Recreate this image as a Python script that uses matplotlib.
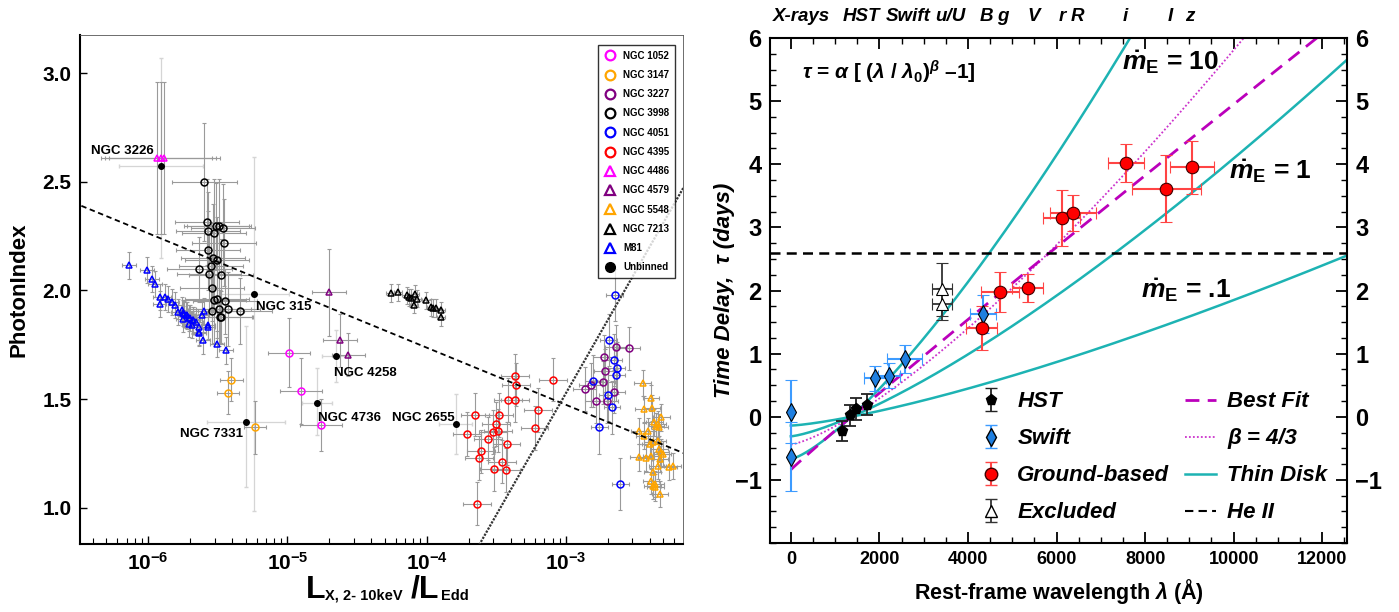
import numpy as np
import matplotlib
matplotlib.use('Agg')
import matplotlib.pyplot as plt
from matplotlib.lines import Line2D
from matplotlib.ticker import MultipleLocator, LogLocator, NullFormatter, FixedLocator

plt.rcParams['font.family'] = ['Liberation Sans', 'DejaVu Sans']
plt.rcParams['mathtext.fontset'] = 'custom'
plt.rcParams['mathtext.rm'] = 'Liberation Sans:bold'
plt.rcParams['mathtext.it'] = 'Liberation Sans:bold:italic'
plt.rcParams['mathtext.bf'] = 'Liberation Sans:bold'

# ---------------- left panel data: log10(L_X/L_Edd), photon index ----------------
m81_lx = [-6.138, -6.012, -5.971, -5.952, -5.914, -5.919, -5.883, -5.855, -5.830, -5.809,
          -5.785, -5.761, -5.742, -5.723, -5.749, -5.699, -5.675, -5.704, -5.685, -5.634,
          -5.637, -5.613, -5.596, -5.570, -5.570, -5.608, -5.508, -5.441, -5.747, -5.728,
          -5.706, -5.680, -5.658, -5.632]
m81_g = [2.115, 2.095, 2.051, 2.031, 1.972, 1.939, 1.969, 1.960, 1.946, 1.934,
         1.903, 1.911, 1.893, 1.885, 1.870, 1.874, 1.862, 1.847, 1.843, 1.831,
         1.808, 1.888, 1.905, 1.839, 1.831, 1.770, 1.754, 1.724, 1.896, 1.889,
         1.874, 1.865, 1.857, 1.803]

n3998_lx = [-5.596, -5.577, -5.51, -5.49, -5.46, -5.57, -5.529, -5.455, -5.572, -5.532,
            -5.508, -5.632, -5.548, -5.561, -5.479, -5.539, -5.527, -5.508, -5.448, -5.539,
            -5.489, -5.427, -5.338, -5.482, -5.48]
n3998_g = [2.499, 2.315, 2.295, 2.295, 2.289, 2.272, 2.264, 2.220, 2.184, 2.149,
           2.138, 2.097, 2.111, 2.074, 2.069, 2.011, 1.957, 1.962, 1.951, 1.905,
           1.916, 1.916, 1.906, 1.880, 1.877]
n3998_ye = [0.27, 0.2, 0.2, 0.22, 0.2, 0.18, 0.25, 0.2, 0.18, 0.25, 0.2, 0.15, 0.2,
            0.18, 0.17, 0.15, 0.2, 0.18, 0.15, 0.15, 0.17, 0.17, 0.15, 0.12, 0.12]

n3147_lx = [-5.403, -5.429, -5.231]
n3147_g = [1.590, 1.530, 1.370]

n1052_lx = [-4.987, -4.901, -4.762]
n1052_g = [1.714, 1.538, 1.382]

n4579_lx = [-4.703, -4.624, -4.564]
n4579_g = [1.992, 1.770, 1.705]

n4486_lx = [-5.94, -5.91, -5.885]
n4486_g = [2.608, 2.608, 2.608]

n7213_lx = [-4.260, -4.206, -4.145, -4.129, -4.115, -4.086, -4.070, -4.093, -4.002, -3.971,
            -3.955, -3.935, -3.897, -3.900]
n7213_g = [1.988, 1.992, 1.977, 1.969, 1.966, 1.985, 1.962, 1.935, 1.954, 1.923,
           1.920, 1.920, 1.908, 1.877]

n4395_lx = [-3.654, -3.711, -3.608, -3.625, -3.560, -3.527, -3.505, -3.489, -3.482, -3.427,
            -3.462, -3.518, -3.434, -3.642, -3.415, -3.364, -3.369, -3.360, -3.200, -3.226,
            -3.095]
n4395_g = [1.429, 1.340, 1.260, 1.229, 1.319, 1.350, 1.386, 1.355, 1.427, 1.296,
           1.213, 1.178, 1.174, 1.020, 1.496, 1.496, 1.608, 1.567, 1.450, 1.367,
           1.590]

n3227_lx = [-2.640, -2.550, -2.726, -2.717, -2.824, -2.867, -2.731, -2.657, -2.784, -2.705]
n3227_g = [1.739, 1.734, 1.693, 1.631, 1.565, 1.547, 1.577, 1.535, 1.490, 1.490]

n4051_lx = [-2.650, -2.693, -2.657, -2.636, -2.640, -2.803, -2.700, -2.669, -2.760, -2.611]
n4051_g = [1.980, 1.774, 1.681, 1.644, 1.613, 1.582, 1.521, 1.462, 1.370, 1.109]

n5548_lx = [-2.449, -2.389, -2.442, -2.382, -2.366, -2.342, -2.315, -2.330, -2.354, -2.473,
            -2.413, -2.437, -2.378, -2.330, -2.318, -2.342, -2.396, -2.478, -2.425, -2.389,
            -2.325, -2.306, -2.263, -2.234, -2.378, -2.342, -2.389, -2.358, -2.378, -2.358,
            -2.325]
n5548_g = [1.575, 1.504, 1.455, 1.458, 1.393, 1.386, 1.416, 1.370, 1.378, 1.355,
           1.355, 1.332, 1.301, 1.270, 1.255, 1.309, 1.294, 1.232, 1.229, 1.240,
           1.224, 1.247, 1.189, 1.194, 1.163, 1.194, 1.124, 1.109, 1.101, 1.094,
           1.063]

# unbinned: NGC 3226, NGC 315, NGC 7331, NGC 4736, NGC 4258, NGC 2655
unb_names = ['NGC 3226', 'NGC 315', 'NGC 7331', 'NGC 4736', 'NGC 4258', 'NGC 2655']
unb_lx = [-5.91, -5.238, -5.30, -4.788, -4.652, -3.792]
unb_g = [2.571, 1.985, 1.396, 1.484, 1.697, 1.386]
unb_xe = [0.3, 0.25, 0.28, 0.11, 0.1, 0.12]
unb_ye_lo = [0.42, 1.0, 0.3, 0.15, 0.12, 0.14]
unb_ye_hi = [0.5, 0.63, 0.44, 0.16, 0.12, 0.14]

# fits (Gamma = a + b log10 L)
fit_dash = (0.685, -0.263)
fit_dot = (0.834 + 1.12 * 3.620, 1.12)

# ---------------- right panel data ----------------
hst_lam = [1150, 1340, 1462, 1725]
hst_tau = [-0.22, 0.02, 0.12, 0.19]
hst_err = [0.16, 0.16, 0.17, 0.17]

swift_lam = [0, 0, 1906, 2215, 2569, 4339]
swift_tau = [0.08, -0.63, 0.61, 0.65, 0.91, 1.63]
swift_xerr = [0, 0, 250, 250, 400, 290]
swift_yerr = [0.5, 0.55, 0.2, 0.2, 0.22, 0.3]

ground_lam = [4316, 4716, 5345, 6114, 6366, 7571, 8475, 9062]
ground_tau = [1.41, 1.98, 2.04, 3.15, 3.23, 4.02, 3.61, 3.95]
ground_xerr = [350, 430, 340, 410, 515, 410, 780, 490]
ground_yerr = [0.35, 0.32, 0.22, 0.44, 0.29, 0.30, 0.53, 0.42]

excl_lam = [3420, 3420]
excl_tau = [2.02, 1.79]
excl_xerr = [230, 230]
excl_yerr = [0.42, 0.25]

lam0 = 1367.0
best_alpha, best_beta = 0.84, 0.97
b43_alpha = 0.44
disk_alpha = [0.67, 0.31, 0.14]
heII_tau = 2.6

band_names = ['X-rays', 'HST', 'Swift', 'u/U', 'B', 'g', 'V', 'r', 'R', 'i', 'I', 'z']
band_lam = [230, 1600, 2650, 3593, 4407, 4791, 5492, 6124, 6463, 7548, 8565, 9017]

# ---------------- figure ----------------
W, H = 1399, 612
fig = plt.figure(figsize=(W / 100, H / 100), dpi=100)
ax1 = fig.add_axes([80 / W, 1 - 544 / H, (683 - 80) / W, (544 - 35) / H])
ax2 = fig.add_axes([770 / W, 1 - 543 / H, (1347 - 770) / W, (543 - 38) / H])


def log_err(lx, dex):
    x = 10 ** np.asarray(lx, dtype=float)
    d = np.asarray(dex, dtype=float) * np.ones_like(x)
    return x, [x - x * 10 ** (-d), x * 10 ** d - x]


groups = [
    ('NGC 1052', n1052_lx, n1052_g, 0.15, [0.16, 0.15, 0.12], 'o', '#ff00ff'),
    ('NGC 3147', n3147_lx, n3147_g, 0.08, [0.1, 0.1, 0.12], 'o', '#ffa500'),
    ('NGC 3227', n3227_lx, n3227_g, 0.08, 0.1, 'o', '#800080'),
    ('NGC 3998', n3998_lx, n3998_g, 0.23, n3998_ye, 'o', 'black'),
    ('NGC 4051', n4051_lx, n4051_g, 0.06, 0.12, 'o', '#0000ff'),
    ('NGC 4395', n4395_lx, n4395_g, 0.1, 0.1, 'o', '#ff0000'),
    ('NGC 4486', n4486_lx, n4486_g, 0.4, 0.35, '^', '#ff00ff'),
    ('NGC 4579', n4579_lx, n4579_g, 0.12, [0.2, 0.12, 0.1], '^', '#800080'),
    ('NGC 5548', n5548_lx, n5548_g, 0.06, 0.06, '^', '#ffa500'),
    ('NGC 7213', n7213_lx, n7213_g, 0.03, 0.04, '^', 'black'),
    ('M81', m81_lx, m81_g, 0.05, 0.06, '^', '#0000ff'),
]

handles = []
for name, lx, g, xd, yd, mk, col in groups:
    x, xe = log_err(lx, xd)
    ye = np.asarray(yd, dtype=float) * np.ones(len(g))
    ax1.errorbar(x, g, xerr=xe, yerr=ye, fmt='none', ecolor='#9a9a9a',
                 elinewidth=0.8, capsize=1.5, capthick=0.8, zorder=2)
    ax1.plot(x, g, linestyle='none', marker=mk, mfc='none', mec=col,
             mew=1.1, ms=5, zorder=3)
    handles.append(Line2D([], [], linestyle='none', marker=mk, mfc='none',
                          mec=col, mew=1.6, ms=7, label=name))

ux, uxe = log_err(unb_lx, unb_xe)
ax1.errorbar(ux, unb_g, xerr=uxe, yerr=[unb_ye_lo, unb_ye_hi], fmt='none',
             ecolor='#d5d5d5', elinewidth=0.9, capsize=1.5, zorder=1)
ax1.plot(ux, unb_g, 'o', color='black', ms=4, zorder=4)
handles.append(Line2D([], [], linestyle='none', marker='o', color='black',
                      ms=7, label='Unbinned'))

lab_pos = {'NGC 3226': (-5.96, 2.615, 'right', 'bottom'),
           'NGC 315': (-5.225, 1.925, 'left', 'center'),
           'NGC 7331': (-5.32, 1.34, 'right', 'center'),
           'NGC 4736': (-4.78, 1.415, 'left', 'center'),
           'NGC 4258': (-4.665, 1.62, 'left', 'center'),
           'NGC 2655': (-3.80, 1.415, 'right', 'center')}
for name in unb_names:
    lx, yy, ha, va = lab_pos[name]
    ax1.text(10 ** lx, yy, name, ha=ha, va=va, fontsize=9.5, fontweight='bold',
             zorder=5)

xl = np.linspace(-6.6, -2.0, 50)
ax1.plot(10 ** xl, fit_dash[0] + fit_dash[1] * xl, color='black', ls=(0, (3, 2)),
         lw=1.3, zorder=4)
xd_ = np.linspace(-3.7, -2.0, 50)
ax1.plot(10 ** xd_, fit_dot[0] + fit_dot[1] * xd_, color='#333333', ls=(0, (1, 0.6)),
         lw=1.6, zorder=4)

ax1.set_xscale('log')
ax1.set_xlim(10 ** -6.49, 10 ** -2.16)
ax1.set_ylim(0.834, 3.175)
ax1.set_yticks([1.0, 1.5, 2.0, 2.5, 3.0])
ax1.set_yticklabels(['1.0', '1.5', '2.0', '2.5', '3.0'], fontsize=15, fontweight='bold')
ax1.xaxis.set_major_locator(FixedLocator([1e-6, 1e-5, 1e-4, 1e-3]))
ax1.set_xticklabels([r'$10^{-6}$', r'$10^{-5}$', r'$10^{-4}$', r'$10^{-3}$'], fontsize=15)
ax1.xaxis.set_minor_locator(LogLocator(base=10, subs=np.arange(2, 10), numticks=20))
ax1.xaxis.set_minor_formatter(NullFormatter())
ax1.tick_params(axis='x', which='major', direction='in', length=6, width=1, pad=6)
ax1.tick_params(axis='x', which='minor', direction='in', length=4, width=0.8)
ax1.tick_params(axis='y', which='major', direction='in', length=5, width=1, pad=6)
for s in ['top', 'right']:
    ax1.spines[s].set_linewidth(0.6)
    ax1.spines[s].set_color('#555555')
for s in ['left', 'bottom']:
    ax1.spines[s].set_linewidth(1.5)
ax1.set_ylabel('PhotonIndex', fontsize=16, fontweight='bold')
ax1.yaxis.set_label_coords(-0.083, 0.5)

leg1 = ax1.legend(handles=handles, loc='upper right', bbox_to_anchor=(0.995, 0.99),
                  prop={'size': 7, 'weight': 'bold'},
                  fancybox=False, edgecolor='black', handletextpad=0.8,
                  labelspacing=0.95, borderpad=0.6, handlelength=1.2)
leg1.get_frame().set_linewidth(1.0)

fig.text(306 / W, 1 - 598 / H, 'L', fontsize=23, fontweight='bold', va='baseline')
fig.text(325 / W, 1 - 600 / H, 'X, 2- 10keV', fontsize=10.5, fontweight='bold', va='baseline')
fig.text(411 / W, 1 - 598 / H, '/L', fontsize=23, fontweight='bold', va='baseline')
fig.text(441 / W, 1 - 600 / H, 'Edd', fontsize=10.5, fontweight='bold', va='baseline')

# ---------------- right panel ----------------
lam = np.linspace(0, 12600, 500)
for a in disk_alpha:
    ax2.plot(lam, a * ((lam / lam0) ** (4 / 3) - 1), color='#1db3b3', lw=1.8, zorder=2)
ax2.plot(lam, b43_alpha * ((lam / lam0) ** (4 / 3) - 1), color='#cc33cc', lw=1.3,
         ls=(0, (1, 1.2)), zorder=2)
ax2.plot(lam, best_alpha * ((lam / lam0) ** best_beta - 1), color='#bb00bb', lw=2.0,
         ls=(0, (5, 3)), zorder=2)
ax2.axhline(heII_tau, color='black', lw=1.8, ls=(0, (4, 2.5)), zorder=2)

ax2.errorbar(hst_lam, hst_tau, yerr=hst_err, fmt='p', color='black', ms=8,
             ecolor='#222222', elinewidth=1.3, capsize=4, capthick=1.3, zorder=4)
ax2.errorbar(swift_lam, swift_tau, xerr=swift_xerr, yerr=swift_yerr, fmt='d',
             mfc='#1f7fe0', mec='black', mew=0.8, ms=9, ecolor='#3d9bff',
             elinewidth=1.5, capsize=4, capthick=1.5, zorder=4)
ax2.errorbar(ground_lam, ground_tau, xerr=ground_xerr, yerr=ground_yerr, fmt='o',
             mfc='red', mec='#400000', mew=0.8, ms=9, ecolor='#ff4444',
             elinewidth=1.5, capsize=4, capthick=1.5, zorder=4)
ax2.errorbar(excl_lam, excl_tau, xerr=excl_xerr, yerr=excl_yerr, fmt='^',
             mfc='white', mec='black', mew=0.8, ms=8, ecolor='#333333',
             elinewidth=1.3, capsize=4, capthick=1.3, zorder=4)

# legend proxies with vertical bars only
p_h = ax2.errorbar([np.nan], [np.nan], yerr=[np.nan], fmt='p', color='black', ms=8,
                   ecolor='#222222', elinewidth=1.3, capsize=4)
p_s = ax2.errorbar([np.nan], [np.nan], yerr=[np.nan], fmt='d', mfc='#1f7fe0', mec='black',
                   ms=9, ecolor='#3d9bff', elinewidth=1.5, capsize=4)
p_g = ax2.errorbar([np.nan], [np.nan], yerr=[np.nan], fmt='o', mfc='red', mec='#400000',
                   ms=9, ecolor='#ff4444', elinewidth=1.5, capsize=4)
p_e = ax2.errorbar([np.nan], [np.nan], yerr=[np.nan], fmt='^', mfc='white', mec='black',
                   ms=8, ecolor='#333333', elinewidth=1.3, capsize=4)
l_b = Line2D([], [], color='#bb00bb', lw=2.0, ls=(0, (5, 3)))
l_43 = Line2D([], [], color='#cc33cc', lw=1.3, ls=(0, (1, 1.2)))
l_d = Line2D([], [], color='#1db3b3', lw=1.8)
l_he = Line2D([], [], color='black', lw=1.5, ls=(0, (4, 2.5)))
leg2 = ax2.legend([p_h, p_s, p_g, p_e, l_b, l_43, l_d, l_he],
                  ['HST', 'Swift', 'Ground-based', 'Excluded', 'Best Fit',
                   r'β = 4/3', 'Thin Disk', 'He II'],
                  ncol=2, loc='upper left', bbox_to_anchor=(0.34, 0.318),
                  frameon=False, prop={'size': 16, 'weight': 'bold', 'style': 'italic'},
                  handlelength=1.4, handletextpad=0.5, columnspacing=0.7,
                  labelspacing=0.72, borderaxespad=0.0)

ax2.set_xlim(-470, 12560)
ax2.set_ylim(-2.0, 6.0)
ax2.set_yticks(range(-1, 7))
ax2.yaxis.set_minor_locator(MultipleLocator(0.25))
ax2.xaxis.set_major_locator(MultipleLocator(2000))
ax2.xaxis.set_minor_locator(MultipleLocator(500))
ax2.tick_params(axis='both', which='both', direction='in', top=True, right=True,
                labelright=True)
ax2.tick_params(axis='both', which='major', length=8, width=1.3)
ax2.tick_params(axis='both', which='minor', length=4, width=1.0)
ax2.tick_params(axis='y', which='major', labelsize=17, pad=6)
ax2.tick_params(axis='x', which='major', labelsize=13, pad=6)
for t in ax2.get_xticklabels() + ax2.get_yticklabels():
    t.set_fontweight('bold')
for s in ax2.spines.values():
    s.set_linewidth(1.5)
ax2.set_xlabel('Rest-frame wavelength $\\lambda$ (Å)', fontsize=15.5, fontweight='bold', labelpad=6)
ax2.set_ylabel('Time Delay,  τ (days)', fontsize=16, fontweight='bold', fontstyle='italic')
ax2.yaxis.set_label_coords(-0.06, 0.5)

for nm, lb in zip(band_names, band_lam):
    ax2.text(lb, 1.025, nm, transform=ax2.get_xaxis_transform(), ha='center', va='bottom',
             fontsize=13.5, fontweight='bold', fontstyle='italic')

ax2.text(250, 5.46, r'$\tau$ = $\alpha$ [ ($\lambda$ / $\lambda_0$)$^{\beta}$ –1]',
         fontsize=15, va='center', fontweight='bold')
ax2.text(7480, 5.62, r'$\dot{m}_{\mathrm{E}}$ = 10', fontsize=19, va='center', fontweight='bold')
ax2.text(9900, 3.9, r'$\dot{m}_{\mathrm{E}}$ = 1', fontsize=19, va='center', fontweight='bold')
ax2.text(7900, 2.0, r'$\dot{m}_{\mathrm{E}}$ = .1', fontsize=19, va='center', fontweight='bold')

fig.savefig('out.png', dpi=100)
